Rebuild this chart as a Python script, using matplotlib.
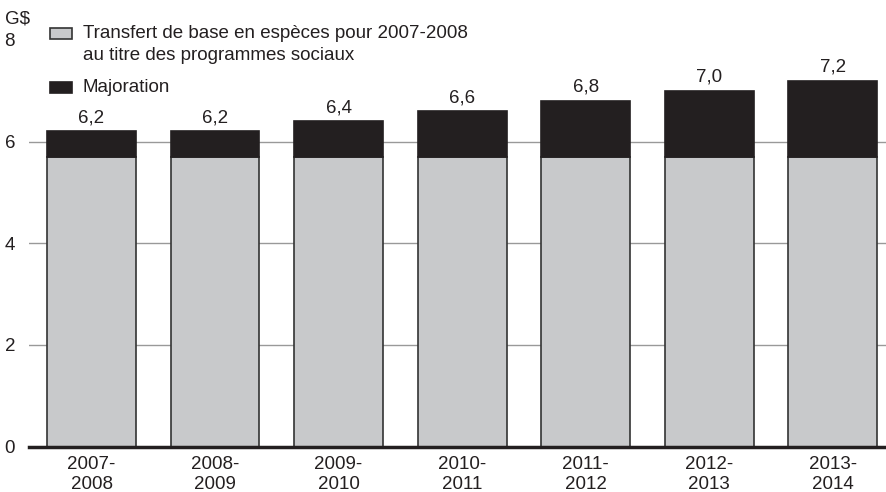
import numpy as np
import matplotlib.pyplot as plt
from matplotlib.patches import Rectangle

plt.rcParams['font.family'] = ['Liberation Sans', 'DejaVu Sans']

# Transfert canadien en matière de programmes sociaux, G$
years = ['2007-\n2008', '2008-\n2009', '2009-\n2010', '2010-\n2011',
         '2011-\n2012', '2012-\n2013', '2013-\n2014']
base = [5.7, 5.7, 5.7, 5.7, 5.7, 5.7, 5.7]
totals = [6.2, 6.2, 6.4, 6.6, 6.8, 7.0, 7.2]
majoration = [t - b for t, b in zip(totals, base)]

gray = '#c8c9cb'
black = '#231f20'
fs = 13.5

fig = plt.figure(figsize=(8.87, 4.92), dpi=100)
W, H = 887, 492
ax = fig.add_axes([29 / W, (H - 446.5) / H, (887 - 29) / W, (446.5 - 40) / H])

x = np.arange(len(years))
width = 0.72
ax.bar(x, base, width, color=gray, edgecolor='#333333', linewidth=1.2, zorder=3)
ax.bar(x, majoration, width, bottom=base, color=black, edgecolor=black,
       linewidth=1.2, zorder=3)

for xi, t in zip(x, totals):
    ax.text(xi, t + 0.1, f'{t:.1f}'.replace('.', ','), ha='center', va='bottom',
            fontsize=fs, color='#231f20')

ax.set_xlim(-0.506, 6.44)
ax.set_ylim(0, 8)
for yv in [2, 4, 6]:
    ax.axhline(yv, color='#999999', linewidth=1, zorder=1)

for side in ['top', 'right', 'left']:
    ax.spines[side].set_visible(False)
ax.spines['bottom'].set_linewidth(2.5)
ax.spines['bottom'].set_color(black)
ax.spines['bottom'].set_zorder(4)

ax.set_xticks(x)
ax.set_xticklabels(years, fontsize=fs, color='#231f20', linespacing=1.25)
ax.tick_params(axis='x', length=0, pad=7)
ax.set_yticks([0, 2, 4, 6, 8])
ax.set_yticklabels(['0', '2', '4', '6', '8'], fontsize=fs, color='#231f20')
ax.tick_params(axis='y', length=0, pad=10)

fig.text(5 / W, 1 - 19 / H, 'G$', fontsize=fs, color='#231f20', va='center', ha='left')

# legend: swatch aligned with the first line of each label
legend_items = [
    (gray, '#333333', 28, ['Transfert de base en espèces pour 2007-2008',
                           'au titre des programmes sociaux']),
    (black, black, 82, ['Majoration']),
]
for face, edge, top, lines in legend_items:
    fig.patches.append(Rectangle((50 / W, 1 - (top + 11) / H), 22 / W, 11 / H,
                                 transform=fig.transFigure, facecolor=face,
                                 edgecolor=edge, linewidth=1.2))
    for i, line in enumerate(lines):
        fig.text(83 / W, 1 - (top + 6 + 22 * i) / H, line, fontsize=fs,
                 color='#231f20', va='center', ha='left')

fig.savefig('out.png', dpi=100)
